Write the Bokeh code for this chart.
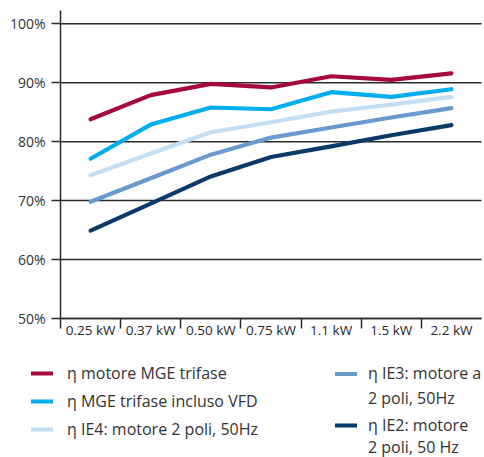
from bokeh.plotting import figure
from bokeh.models import Range1d, FixedTicker, Legend, LegendItem
from bokeh.embed import file_html
from bokeh.resources import INLINE

categories = ["0.25 kW", "0.37 kW", "0.50 kW", "0.75 kW", "1.1 kW", "1.5 kW", "2.2 kW"]
mge_motor = [83.8, 87.9, 89.8, 89.2, 91.1, 90.5, 91.6]
mge_vfd = [77.1, 82.9, 85.8, 85.5, 88.4, 87.6, 88.9]
ie4 = [74.3, 78.0, 81.6, 83.3, 85.1, 86.3, 87.6]
ie3 = [69.8, 73.8, 77.8, 80.7, 82.4, 84.1, 85.7]
ie2 = [64.9, 69.5, 74.1, 77.4, 79.2, 81.1, 82.8]
y_ticks = [50, 60, 70, 80, 90, 100]
y_labels = ["50%", "60%", "70%", "80%", "90%", "100%"]

series_values = [mge_motor, mge_vfd, ie4, ie3, ie2]
series_colors = ["#A6093D", "#00ADEE", "#C4DFF4", "#6A9ACD", "#0B3A69"]
legend_labels = [
    "η motore MGE trifase",
    "η MGE trifase incluso VFD",
    "η IE4: motore 2 poli, 50Hz",
    "η IE3: motore a\n2 poli, 50Hz",
    "η IE2: motore\n2 poli, 50 Hz",
]

FONT = "Open Sans"
TEXT = "#333333"
DARK = "#2a2a2a"

n = len(categories)
xs = [i + 0.5 for i in range(n)]

# canvas geometry (pixels): the frame covers the whole canvas, axes are pinned
W, H = 484, 457
PLOT_L, PLOT_R = 60, 481          # where category 0 starts / last category ends
Y50_PX, Y100_PX = 318, 23.3       # pixel rows of 50% and 100%
AXIS_TOP_PX = 10
px_per_x = (PLOT_R - PLOT_L) / n
px_per_y = (Y50_PX - Y100_PX) / 50.0
x_range = Range1d(-PLOT_L / px_per_x, n + (W - PLOT_R) / px_per_x)
y_range = Range1d(50 - (H - Y50_PX) / px_per_y, 100 + Y100_PX / px_per_y)
y_top = 100 + (Y100_PX - AXIS_TOP_PX) / px_per_y

p = figure(width=W, height=H, output_backend="svg", toolbar_location=None,
           x_range=x_range, y_range=y_range, min_border=0)
p.outline_line_color = None
p.background_fill_color = "white"
p.border_fill_color = "white"
p.xgrid.grid_line_color = None
p.ygrid.grid_line_color = None

# horizontal grid lines across the category span, at the y ticks
p.segment(x0=[0] * len(y_ticks), y0=y_ticks, x1=[n] * len(y_ticks), y1=y_ticks,
          line_color=DARK, line_width=1.5)

renderers = []
for vals, col in zip(series_values, series_colors):
    r = p.line(xs, vals, line_color=col, line_width=4.2, line_cap="round", line_join="round")
    renderers.append(r)
blank = p.line([], [], line_alpha=0)

# y axis pinned at x = 0
yax = p.yaxis[0]
yax.fixed_location = 0
yax.bounds = (50, y_top)
yax.ticker = FixedTicker(ticks=y_ticks)
yax.major_label_overrides = {t: l for t, l in zip(y_ticks, y_labels)}
yax.major_tick_out = 9
yax.major_tick_in = 0
yax.minor_tick_line_color = None
yax.axis_line_color = DARK
yax.axis_line_width = 1.5
yax.major_tick_line_color = DARK
yax.major_tick_line_width = 1.5
yax.major_label_text_font = FONT
yax.major_label_text_font_size = "14px"
yax.major_label_text_color = TEXT
yax.major_label_standoff = 6

# x axis pinned at y = 50
xax = p.xaxis[0]
xax.fixed_location = 50
xax.bounds = (0, n)
xax.ticker = FixedTicker(ticks=xs, minor_ticks=list(range(n)))
xax.major_label_overrides = {x: c for x, c in zip(xs, categories)}
xax.major_tick_line_color = None
xax.major_tick_out = 0
xax.major_tick_in = 0
xax.minor_tick_out = 10
xax.minor_tick_in = 0
xax.minor_tick_line_color = DARK
xax.minor_tick_line_width = 1.5
xax.axis_line_color = DARK
xax.axis_line_width = 1.5
xax.major_label_text_font = FONT
xax.major_label_text_font_size = "13.5px"
xax.major_label_text_color = "#262626"
xax.major_label_standoff = -8


def make_legend(entries, left, top, pitch, standoff):
    items = [LegendItem(label=lab, renderers=[rend]) for lab, rend in entries]
    height = pitch * len(items)
    lg = Legend(items=items, location=(left, H - top - height),
                orientation="vertical", padding=0, margin=0, spacing=0,
                glyph_width=22, glyph_height=pitch, label_height=pitch,
                label_standoff=standoff, border_line_color=None,
                background_fill_alpha=0, label_text_font=FONT,
                label_text_font_size="16px", label_text_color=TEXT,
                label_text_baseline="middle")
    p.add_layout(lg, "center")


make_legend([(legend_labels[i], renderers[i]) for i in range(3)],
            left=31, top=373 - 14, pitch=28, standoff=14)
a, b = legend_labels[3].split("\n")
make_legend([(a, renderers[3]), (b, blank)], left=335, top=373 - 12.5, pitch=25, standoff=11)
a, b = legend_labels[4].split("\n")
make_legend([(a, renderers[4]), (b, blank)], left=335, top=428 - 10, pitch=20, standoff=11)

open("out.html", "w").write(file_html(p, INLINE))
